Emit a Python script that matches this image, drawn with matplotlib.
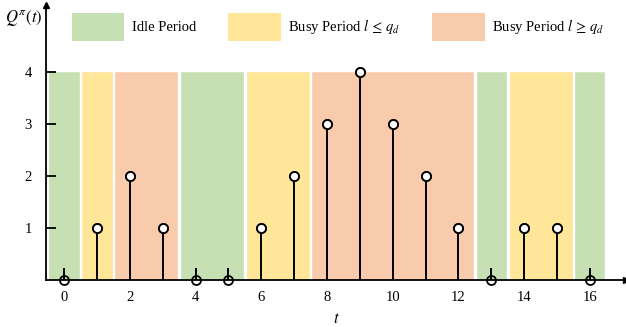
import matplotlib.pyplot as plt
from matplotlib.patches import Patch

plt.rcParams['font.family'] = ['Liberation Serif', 'DejaVu Serif']
plt.rcParams['mathtext.fontset'] = 'stix'

# queue length at each slot
t = list(range(17))
q = [0, 1, 2, 1, 0, 0, 1, 2, 3, 4, 3, 2, 1, 0, 1, 1, 0]

# periods: (first slot, last slot, kind)
period_start = [0, 1, 2, 4, 6, 8, 13, 14, 16]
period_end = [0, 1, 3, 5, 7, 12, 13, 15, 16]
period_kind = ['idle', 'low', 'high', 'idle', 'low', 'high', 'idle', 'low', 'idle']

colors = {'idle': '#c6e0b4', 'low': '#ffe699', 'high': '#f8cbad'}
labels = {'idle': 'Idle Period',
          'low': r'Busy Period $l\,\leq\,q_d$',
          'high': r'Busy Period $l\,\geq\,q_d$'}

fig = plt.figure(figsize=(6.26, 3.27), dpi=100)
ax = fig.add_axes([46 / 626, 47 / 327, 580 / 626, 275 / 327])

for s, e, k in zip(period_start, period_end, period_kind):
    ax.bar((s + e) / 2, 4.03, width=e - s + 0.95, bottom=0,
           color=colors[k], edgecolor='white', linewidth=1.0, zorder=1)

stub = 0.24
for ti, qi in zip(t, q):
    ax.vlines(ti, 0, max(qi, stub), color='black', linewidth=1.4, zorder=3)
ax.plot(t, q, 'o', markersize=6.5, markerfacecolor='none',
        markeredgecolor='black', markeredgewidth=1.3, zorder=4, clip_on=False)
# white fill under the circles, but keep zero-slot stubs visible
ax.plot([ti for ti, qi in zip(t, q) if qi > 0], [qi for qi in q if qi > 0], 'o',
        markersize=6.5, markerfacecolor='white', markeredgecolor='black',
        markeredgewidth=1.3, zorder=4, clip_on=False)

ax.set_xlim(-0.55, 17.1)
ax.set_ylim(0, 5.3)
ax.set_xticks(range(0, 17, 2))
ax.set_yticks([1, 2, 3, 4])
ax.tick_params(axis='x', length=0, pad=8, labelsize=10.5)
ax.tick_params(axis='y', direction='in', length=7, width=1.3, pad=10, labelsize=10.5)
for s in ['top', 'right']:
    ax.spines[s].set_visible(False)
for s in ['left', 'bottom']:
    ax.spines[s].set_linewidth(1.3)
ax.plot(1, 0, '>k', markersize=4, transform=ax.transAxes, clip_on=False)
ax.plot(0, 1, '^k', markersize=4, transform=ax.transAxes, clip_on=False)

ax.set_xlabel('$t$', fontsize=12, labelpad=5)
fig.text(5 / 626, 1 - 18 / 327, r'$Q^{\pi}(t)$', fontsize=12, va='center')

handles = [Patch(facecolor=colors[k], label=labels[k]) for k in ['idle', 'low', 'high']]
fig.legend(handles=handles, loc='center', bbox_to_anchor=(338 / 626, 1 - 27 / 327),
           ncol=3, frameon=False, fontsize=10.5, handlelength=3.6, handleheight=2.5,
           handletextpad=0.5, columnspacing=2.2)

fig.savefig('out.png', dpi=100)
